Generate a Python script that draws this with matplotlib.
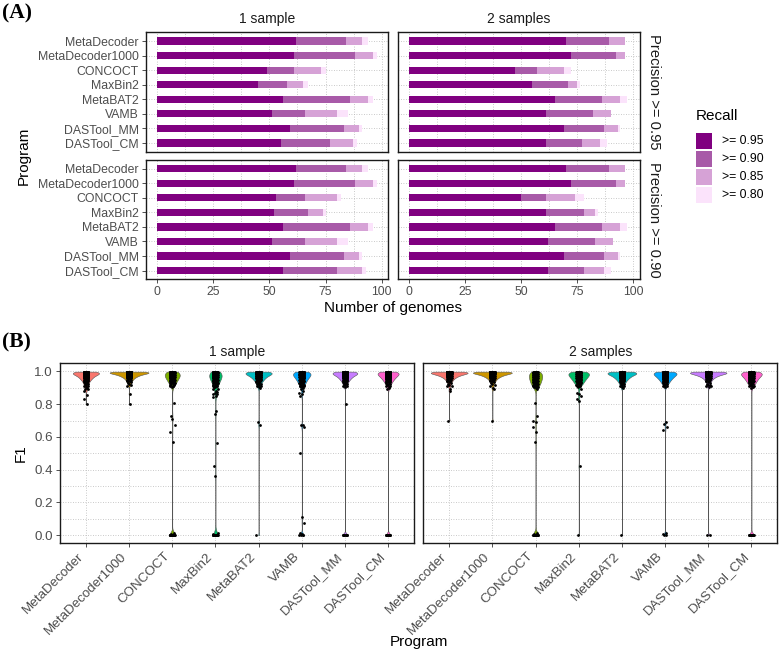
import numpy as np
import matplotlib
matplotlib.use("Agg")
import matplotlib.pyplot as plt
from matplotlib.patches import Rectangle

plt.rcParams['font.family'] = ['Liberation Sans', 'DejaVu Sans']

# ---------------- data ----------------
programs = ["MetaDecoder", "MetaDecoder1000", "CONCOCT", "MaxBin2",
            "MetaBAT2", "VAMB", "DASTool_MM", "DASTool_CM"]
sample_labels = ["1 sample", "2 samples"]
precision_labels = ["Precision >= 0.95", "Precision >= 0.90"]
recall_labels = [">= 0.95", ">= 0.90", ">= 0.85", ">= 0.80"]

# Panel A: number of genomes with recall >= threshold (cumulative)
# Precision >= 0.95, 1 sample
p95_s1_r95 = [62, 61, 49, 45, 56, 51, 59, 55]
p95_s1_r90 = [84, 88, 61, 58, 86, 66, 83, 77]
p95_s1_r85 = [91, 96, 73, 65, 94, 80, 90, 87]
p95_s1_r80 = [94, 98, 75, 67, 96, 85, 91, 89]
# Precision >= 0.95, 2 samples
p95_s2_r95 = [70, 72, 47, 55, 65, 61, 69, 61]
p95_s2_r90 = [89, 92, 57, 71, 86, 82, 87, 77]
p95_s2_r85 = [96, 96, 69, 75, 94, 90, 93, 85]
p95_s2_r80 = [96, 96, 72, 76, 97, 90, 94, 88]
# Precision >= 0.90, 1 sample
p90_s1_r95 = [62, 61, 53, 52, 56, 51, 59, 56]
p90_s1_r90 = [84, 88, 66, 67, 86, 66, 83, 80]
p90_s1_r85 = [91, 96, 80, 74, 94, 80, 90, 91]
p90_s1_r80 = [94, 98, 82, 75, 96, 85, 91, 93]
# Precision >= 0.90, 2 samples
p90_s2_r95 = [70, 72, 50, 61, 65, 62, 69, 62]
p90_s2_r90 = [89, 92, 61, 78, 86, 83, 87, 78]
p90_s2_r85 = [96, 96, 74, 83, 94, 91, 93, 87]
p90_s2_r80 = [96, 96, 78, 84, 97, 91, 94, 90]

# Panel B: F1 values = counts of genomes at high F1 levels + individual lower values
f1_levels = [0.999, 0.994, 0.989, 0.984, 0.979, 0.974, 0.969, 0.964, 0.959, 0.954,
             0.949, 0.944, 0.939, 0.934, 0.929, 0.924, 0.919, 0.914, 0.909, 0.904]
f1_counts_s1 = [
    [13, 12, 10, 9, 7, 6, 5, 5, 4, 4, 3, 3, 2, 2, 2, 2, 1, 1, 1, 1],   # MetaDecoder
    [17, 15, 12, 9, 7, 6, 5, 4, 3, 3, 2, 2, 2, 1, 1, 1, 1, 1, 0, 0],   # MetaDecoder1000
    [8, 8, 7, 7, 6, 6, 6, 5, 5, 4, 4, 4, 3, 3, 3, 2, 2, 2, 1, 1],      # CONCOCT
    [8, 8, 7, 7, 6, 6, 6, 5, 5, 4, 4, 4, 3, 3, 3, 3, 2, 2, 2, 2],      # MaxBin2
    [13, 12, 10, 9, 7, 6, 5, 5, 4, 4, 3, 3, 2, 2, 2, 2, 1, 1, 1, 1],   # MetaBAT2
    [9, 9, 8, 8, 7, 6, 6, 5, 5, 4, 4, 4, 3, 3, 3, 2, 2, 2, 2, 1],      # VAMB
    [13, 12, 10, 9, 7, 6, 5, 5, 4, 4, 3, 3, 2, 2, 2, 2, 1, 1, 1, 1],   # DASTool_MM
    [11, 10, 9, 8, 7, 6, 6, 5, 5, 4, 4, 3, 3, 3, 2, 2, 2, 1, 1, 1],    # DASTool_CM
]
f1_low_s1 = [
    [0.90, 0.895, 0.89, 0.88, 0.855, 0.83, 0.80],
    [0.865, 0.80],
    [0.81, 0.73, 0.71, 0.67, 0.63, 0.57, 0.01, 0.005] + [0.0] * 16,
    [0.895, 0.89, 0.88, 0.875, 0.87, 0.86, 0.86, 0.85, 0.845, 0.76, 0.74,
     0.56, 0.42, 0.36, 0.01, 0.005] + [0.0] * 16,
    [0.90, 0.69, 0.67, 0.0],
    [0.90, 0.89, 0.88, 0.87, 0.86, 0.85, 0.675, 0.67, 0.66, 0.50, 0.11,
     0.075, 0.01, 0.008, 0.0, 0.0, 0.0, 0.0],
    [0.80] + [0.0] * 9,
    [0.90, 0.89] + [0.0] * 9,
]
f1_counts_s2 = [
    [16, 15, 12, 9, 7, 6, 5, 4, 3, 3, 2, 2, 2, 1, 1, 1, 1, 1, 1, 0],   # MetaDecoder
    [17, 15, 12, 9, 7, 6, 5, 4, 3, 3, 2, 2, 2, 1, 1, 1, 1, 1, 0, 0],   # MetaDecoder1000
    [6, 6, 6, 6, 6, 5, 5, 5, 5, 5, 5, 4, 4, 4, 4, 4, 3, 3, 3, 3],      # CONCOCT
    [8, 8, 7, 7, 6, 6, 6, 5, 5, 4, 4, 4, 3, 3, 3, 2, 2, 2, 1, 1],      # MaxBin2
    [13, 12, 10, 9, 7, 6, 5, 5, 4, 4, 3, 3, 2, 2, 2, 2, 1, 1, 1, 1],   # MetaBAT2
    [11, 10, 9, 8, 7, 6, 6, 5, 5, 4, 4, 3, 3, 3, 2, 2, 2, 1, 1, 1],    # VAMB
    [16, 15, 12, 9, 7, 6, 5, 4, 3, 3, 2, 2, 2, 1, 1, 1, 1, 1, 1, 1],   # DASTool_MM
    [10, 9, 9, 8, 7, 6, 6, 5, 5, 4, 4, 4, 3, 3, 3, 2, 2, 2, 1, 1],     # DASTool_CM
]
f1_low_s2 = [
    [0.89, 0.88, 0.70],
    [0.90, 0.89, 0.70],
    [0.90, 0.89, 0.81, 0.725, 0.70, 0.69, 0.66, 0.63, 0.57, 0.01, 0.005] + [0.0] * 16,
    [0.89, 0.87, 0.86, 0.85, 0.83, 0.82, 0.42, 0.0],
    [0.90, 0.0],
    [0.69, 0.68, 0.66, 0.64, 0.012, 0.008, 0.0, 0.0],
    [0.92, 0.0, 0.0],
    [0.90] + [0.0] * 10,
]

# ---------------- styles ----------------
recall_colors = ['#800080', '#A85AA8', '#D6A2D6', '#FBE3FB']
violin_colors = ['#F8766D', '#CD9600', '#7CAE00', '#00BE67',
                 '#00BFC4', '#00A9FF', '#C77CFF', '#FF61CC']
jitter_offsets = [-0.05, 0.02, -0.015, 0.045, -0.03, 0.0, 0.055,
                  -0.045, 0.01, 0.03, -0.02, 0.04, -0.055, 0.015]
grid_col = '#B8B8B8'
grid_ls = (0, (1, 2))
tick_col = '#4D4D4D'
FS_TICK_A = 8.8
FS_TICK_B = 9.6
FS_STRIP = 10
FS_STRIP_R = 10.6
FS_TITLE = 11

W, H = 780, 651
fig = plt.figure(figsize=(W / 100, H / 100), dpi=100)


def fx(x):
    return x / W


def fy(y):
    return 1 - y / H


def add_ax(x0, y0, x1, y1):
    return fig.add_axes([x0 / W, 1 - y1 / H, (x1 - x0) / W, (y1 - y0) / H])


def style_ax(ax, fs):
    for s in ax.spines.values():
        s.set_color('#1A1A1A')
        s.set_linewidth(1.0)
    ax.tick_params(which='major', direction='out', length=3, width=0.6,
                   color='#333333', labelcolor=tick_col, labelsize=fs, pad=2)
    ax.tick_params(which='minor', length=0)
    ax.grid(True, which='both', color=grid_col, linestyle=grid_ls, linewidth=0.6)
    ax.set_axisbelow(True)


# ---------------- panel A ----------------
bar_sets = [
    [[p95_s1_r95, p95_s1_r90, p95_s1_r85, p95_s1_r80],
     [p95_s2_r95, p95_s2_r90, p95_s2_r85, p95_s2_r80]],
    [[p90_s1_r95, p90_s1_r90, p90_s1_r85, p90_s1_r80],
     [p90_s2_r95, p90_s2_r90, p90_s2_r85, p90_s2_r80]],
]
a_x = [(145.7, 388.3), (398.0, 640.0)]
a_y = [(32.3, 151.7), (160.0, 279.3)]
ypos = np.arange(len(programs))
for r in range(2):
    for c in range(2):
        ax = add_ax(a_x[c][0], a_y[r][0], a_x[c][1], a_y[r][1])
        style_ax(ax, FS_TICK_A)
        sets = bar_sets[r][c]
        for k in range(3, -1, -1):
            ax.barh(ypos, sets[k], height=0.5, color=recall_colors[k],
                    edgecolor='none', zorder=2 + (3 - k))
        ax.set_xlim(-4.9, 102.9)
        ax.set_ylim(len(programs) - 0.4, -0.6)
        ax.set_xticks([0, 25, 50, 75, 100])
        ax.set_xticks([12.5, 37.5, 62.5, 87.5], minor=True)
        ax.set_yticks(ypos)
        if c == 0:
            ax.set_yticklabels(programs)
        else:
            ax.set_yticklabels([])
            ax.tick_params(axis='y', which='major', length=0)
        if r == 1:
            ax.set_xticklabels([str(v) for v in [0, 25, 50, 75, 100]])
        else:
            ax.set_xticklabels([])
            ax.tick_params(axis='x', which='major', length=0)
        if r == 0:
            fig.text(fx((a_x[c][0] + a_x[c][1]) / 2), fy(19), sample_labels[c],
                     ha='center', va='center', fontsize=FS_STRIP, color='#1A1A1A')
        if c == 1:
            fig.text(fx(654), fy((a_y[r][0] + a_y[r][1]) / 2), precision_labels[r],
                     ha='center', va='center', rotation=-90, fontsize=FS_STRIP_R,
                     color='#1A1A1A')

fig.text(fx(2), fy(3), "(A)", ha='left', va='top', fontsize=15.5,
         fontweight='bold', family=['Liberation Serif', 'DejaVu Serif'])
fig.text(fx(24), fy(155.8), "Program", rotation=90, ha='center', va='center',
         fontsize=FS_TITLE)
fig.text(fx(393), fy(308), "Number of genomes", ha='center', va='center',
         fontsize=FS_TITLE)

# legend (Recall)
fig.text(fx(696), fy(116), "Recall", ha='left', va='center', fontsize=FS_TITLE)
key_top = 133.3
key_pitch = 17.9
key_size = 15.7
for k, (col, lab) in enumerate(zip(recall_colors, recall_labels)):
    y0 = key_top + k * key_pitch
    fig.add_artist(Rectangle((fx(696), fy(y0 + key_size)), key_size / W,
                             key_size / H, transform=fig.transFigure,
                             facecolor=col, edgecolor='none'))
    fig.text(fx(721.7), fy(y0 + key_size / 2), lab, ha='left', va='center',
             fontsize=FS_TICK_A)


# ---------------- panel B ----------------
def nrd0(v):
    sd = np.std(v, ddof=1)
    q75, q25 = np.percentile(v, [75, 25])
    lo = min(sd, (q75 - q25) / 1.34)
    if lo <= 0:
        lo = sd if sd > 0 else 1.0
    return 0.9 * lo * len(v) ** (-0.2)


def kde_curve(vals, n=800):
    v = np.asarray(vals, dtype=float)
    bw = nrd0(v)
    ys = np.linspace(v.min(), v.max(), n)
    d = np.exp(-0.5 * ((ys[:, None] - v[None, :]) / bw) ** 2).sum(1)
    d = d / (len(v) * bw * np.sqrt(2 * np.pi))
    return ys, d


b_x = [(60.0, 414.0), (423.3, 777.3)]
b_y = (363.3, 543.3)
b_data = [(f1_counts_s1, f1_low_s1), (f1_counts_s2, f1_low_s2)]
for c in range(2):
    ax = add_ax(b_x[c][0], b_y[0], b_x[c][1], b_y[1])
    style_ax(ax, FS_TICK_B)
    counts, lows = b_data[c]
    groups = []
    for i in range(len(programs)):
        vals = np.concatenate([np.repeat(f1_levels, counts[i]), lows[i]])
        groups.append(vals)
    curves = [kde_curve(g) for g in groups]
    dmax = max(d.max() for _, d in curves)
    for i, (ys, d) in enumerate(curves):
        half = 0.45 * d / dmax
        ax.fill_betweenx(ys, i - half, i + half, facecolor=violin_colors[i],
                         edgecolor='#555555', linewidth=0.4, zorder=2)
        jit = np.resize(jitter_offsets, len(groups[i]))
        ax.scatter(i + jit, groups[i], s=4, c='black', linewidths=0, zorder=3)
    ax.set_xlim(-0.6, len(programs) - 0.4)
    ax.set_ylim(-0.05, 1.05)
    ax.set_xticks(np.arange(len(programs)))
    ax.set_xticklabels(programs, rotation=45, ha='right')
    ax.set_yticks([0, 0.2, 0.4, 0.6, 0.8, 1.0])
    ax.set_yticks([0.1, 0.3, 0.5, 0.7, 0.9], minor=True)
    if c == 0:
        ax.set_yticklabels(["0.0", "0.2", "0.4", "0.6", "0.8", "1.0"])
    else:
        ax.set_yticklabels([])
        ax.tick_params(axis='y', which='major', length=0)
    fig.text(fx((b_x[c][0] + b_x[c][1]) / 2), fy(351.7), sample_labels[c],
             ha='center', va='center', fontsize=FS_STRIP, color='#1A1A1A')

fig.text(fx(2), fy(332), "(B)", ha='left', va='top', fontsize=15.5,
         fontweight='bold', family=['Liberation Serif', 'DejaVu Serif'])
fig.text(fx(21), fy(453.3), "F1", rotation=90, ha='center', va='center',
         fontsize=FS_TITLE)
fig.text(fx(418.7), fy(642), "Program", ha='center', va='center',
         fontsize=FS_TITLE)

fig.savefig("out.png", dpi=100)
